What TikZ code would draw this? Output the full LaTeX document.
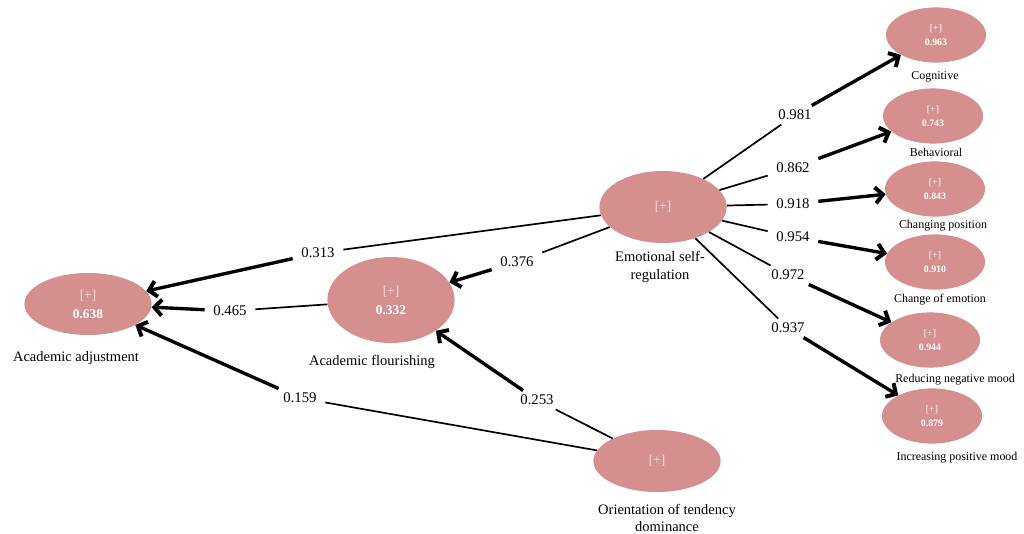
\documentclass[tikz,border=0pt]{standalone}
\usepackage{fontspec}
\setmainfont{Liberation Serif}
\usepackage{tikz}
\usetikzlibrary{arrows.meta,positioning,shapes.geometric}
\definecolor{LatentRose}{HTML}{D68F8F}
\definecolor{PlusPink}{HTML}{F7DEDE}

\begin{document}
\begin{tikzpicture}[
    x=0.025cm, y=-0.025cm,
    font=\fontsize{10}{12}\selectfont,
    latent/.style={ellipse, fill=LatentRose, align=center, text=white, minimum width=3.18cm, inner sep=1pt, font=\fontsize{9.5}{13.5}\selectfont},
    indicator/.style={ellipse, fill=LatentRose, align=center, text=white, minimum width=2.5cm, minimum height=1.38cm, inner sep=1pt, font=\fontsize{7}{9.5}\selectfont},
    caption/.style={align=center, font=\fontsize{10.3}{12.5}\selectfont},
    subcap/.style={align=center, font=\fontsize{8.5}{10}\selectfont},
    coef/.style={inner xsep=6pt, inner ysep=3pt, font=\fontsize{10.5}{12}\selectfont},
    lnk/.style={line width=1.2pt},
    arr/.style={line width=2.4pt, -{Straight Barb[length=1.9mm, width=4mm, line width=2.8pt]}}
]
\useasboundingbox (0,0) rectangle (1024,533);

% latent constructs
\node[latent, minimum height=1.55cm] (aa) at (88,304) {{\color{PlusPink}[+]}\\\textbf{0.638}};
\node[latent, minimum height=2.15cm] (af) at (391,300) {{\color{PlusPink}[+]}\\\textbf{0.332}};
\node[latent, minimum height=1.8cm] (esr) at (663,207) {{\color{PlusPink}[+]}};
\node[latent, minimum height=1.55cm] (otd) at (657,461) {{\color{PlusPink}[+]}};

\node[caption] (aa-cap) at (76,358) {Academic adjustment};
\node[caption] (af-cap) at (372,362) {Academic flourishing};
\node[caption] (esr-cap) at (660,267) {Emotional self-\\regulation};
\node[caption] (otd-cap) at (667,518) {Orientation of tendency\\dominance};

% dimensions of emotional self-regulation
\node[indicator] (cog) at (936,35) {[+]\\\textbf{0.963}};
\node[indicator] (beh) at (933,116) {[+]\\\textbf{0.743}};
\node[indicator] (chp) at (935,189) {[+]\\\textbf{0.843}};
\node[indicator] (che) at (935,262) {[+]\\\textbf{0.910}};
\node[indicator] (rnm) at (930,340) {[+]\\\textbf{0.944}};
\node[indicator] (ipm) at (932,416) {[+]\\\textbf{0.879}};

\node[subcap] (cog-cap) at (935,77) {Cognitive};
\node[subcap] (beh-cap) at (936,152) {Behavioral};
\node[subcap] (chp-cap) at (943,226) {Changing position};
\node[subcap] (che-cap) at (940,300) {Change of emotion};
\node[subcap] (rnm-cap) at (955,380) {Reducing negative mood};
\node[subcap] (ipm-cap) at (957,458) {Increasing positive mood};

% path coefficients
\node[coef] (c313) at (318,253) {0.313};
\node[coef] (c465) at (230,311) {0.465};
\node[coef] (c159) at (300,398) {0.159};
\node[coef] (c376) at (517,262) {0.376};
\node[coef] (c253) at (537,400) {0.253};
\node[coef] (c981) at (795,115) {0.981};
\node[coef] (c862) at (793,168) {0.862};
\node[coef] (c918) at (793,204) {0.918};
\node[coef] (c954) at (793,237) {0.954};
\node[coef] (c972) at (788,275) {0.972};
\node[coef] (c937) at (788,328) {0.937};

\draw[lnk] (esr) -- (c313); \draw[arr] (c313) -- (aa);
\draw[lnk] (af) -- (c465);  \draw[arr] (c465) -- (aa);
\draw[lnk] (otd) -- (c159); \draw[arr] (c159) -- (aa);
\draw[lnk] (esr) -- (c376); \draw[arr] (c376) -- (af);
\draw[lnk] (otd) -- (c253); \draw[arr] (c253) -- (af);
\foreach \c/\t in {c981/cog, c862/beh, c918/chp, c954/che, c972/rnm, c937/ipm}{
  \draw[lnk] (esr) -- (\c);
  \draw[arr] (\c) -- (\t);
}
\end{tikzpicture}
\end{document}
